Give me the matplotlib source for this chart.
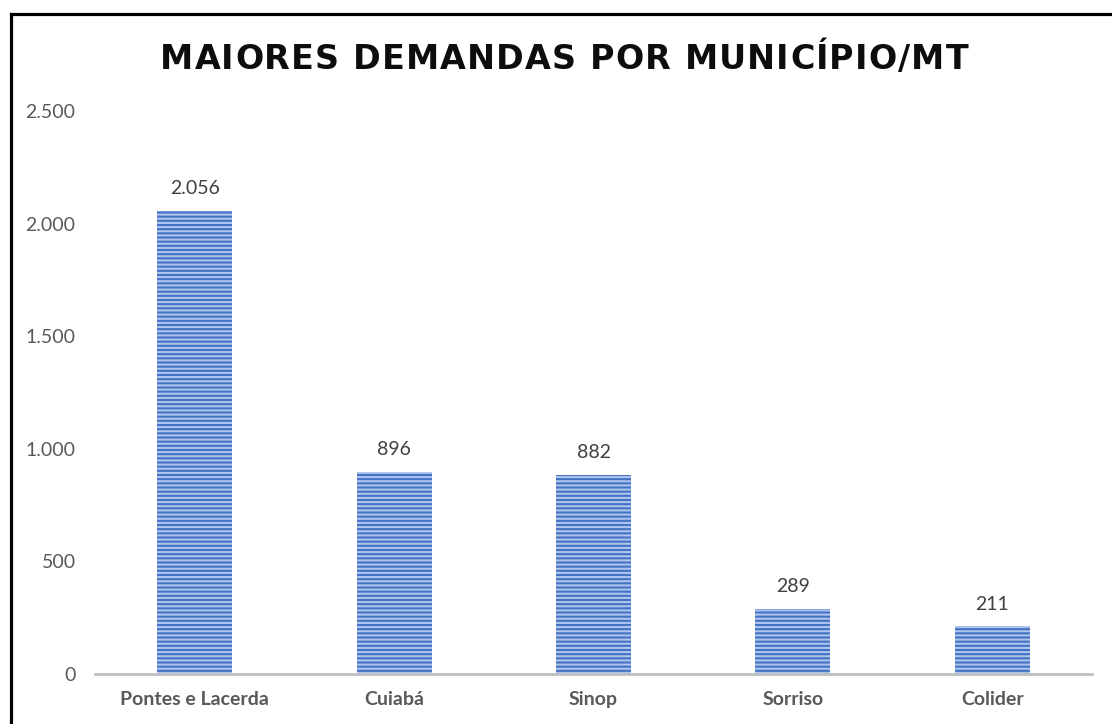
import matplotlib
matplotlib.use("Agg")
import matplotlib.pyplot as plt
from matplotlib.lines import Line2D

categories = ["Pontes e Lacerda", "Cuiabá", "Sinop", "Sorriso", "Colider"]
values = [2056, 896, 882, 289, 211]
yticks = [0, 500, 1000, 1500, 2000, 2500]
title = "MAIORES DEMANDAS POR MUNICÍPIO/MT"

def fmt(v):
    return f"{v:,}".replace(",", ".")

plt.rcParams['font.family'] = ['Lato', 'DejaVu Sans']
plt.rcParams['hatch.linewidth'] = 1.5

W, H = 1112, 724
fig = plt.figure(figsize=(W / 100, H / 100), dpi=100)
ax = fig.add_axes([95 / W, 1 - 674 / H, (1092 - 95) / W, (674 - 111) / H])

x = list(range(len(categories)))
bars = ax.bar(x, values, width=0.377, color='#4472C4', edgecolor='#AFC4EC',
              linewidth=0, hatch='----')

for xi, v in zip(x, values):
    ax.annotate(fmt(v), (xi, v), xytext=(0, 10), textcoords='offset points',
                ha='center', va='bottom', fontsize=14, color='#404040')

ax.set_xlim(-0.5, len(categories) - 0.5)
ax.set_ylim(0, 2500)
ax.set_yticks(yticks)
ax.set_yticklabels([fmt(t) for t in yticks], fontsize=14, color='#595959')
ax.set_xticks(x)
ax.set_xticklabels(categories, fontsize=14, fontweight='bold', color='#595959')
ax.tick_params(axis='y', length=0, pad=14)
ax.tick_params(axis='x', length=0, pad=12)
for s in ['top', 'right', 'left']:
    ax.spines[s].set_visible(False)
ax.spines['bottom'].set_color('#BFBFBF')
ax.spines['bottom'].set_linewidth(2)

# title with letter spacing, drawn char by char, spanning ~160..968 px
fig.canvas.draw()
renderer = fig.canvas.get_renderer()
tprops = dict(fontsize=24, fontweight='bold', color='#0D0D0D', family=['DejaVu Sans'])
left_px, right_px, baseline_px = 160, 968, 69
tmp = [fig.text(0, 0, ch, **tprops) for ch in title]
widths = [t.get_window_extent(renderer).width if ch != ' ' else None for t, ch in zip(tmp, title)]
a1 = fig.text(0, 0, 'A A', **tprops)
a2 = fig.text(0, 0, 'AA', **tprops)
sw = a1.get_window_extent(renderer).width - a2.get_window_extent(renderer).width
a1.remove(); a2.remove()
for t in tmp:
    t.remove()
widths = [w if w is not None else sw for w in widths]
spacing = ((right_px - left_px) - sum(widths)) / (len(title) - 1)
cx = left_px
for ch, w in zip(title, widths):
    fig.text(cx / W, 1 - baseline_px / H, ch, ha='left', va='baseline', **tprops)
    cx += w + spacing

# border (left and top)
fig.add_artist(Line2D([10.5 / W, 10.5 / W], [0, 1 - 13.5 / H], color='black', lw=2.3,
                      transform=fig.transFigure, solid_capstyle='projecting'))
fig.add_artist(Line2D([10.5 / W, 1], [1 - 13.5 / H, 1 - 13.5 / H], color='black', lw=2.3,
                      transform=fig.transFigure, solid_capstyle='projecting'))

fig.savefig("out.png", dpi=100)
